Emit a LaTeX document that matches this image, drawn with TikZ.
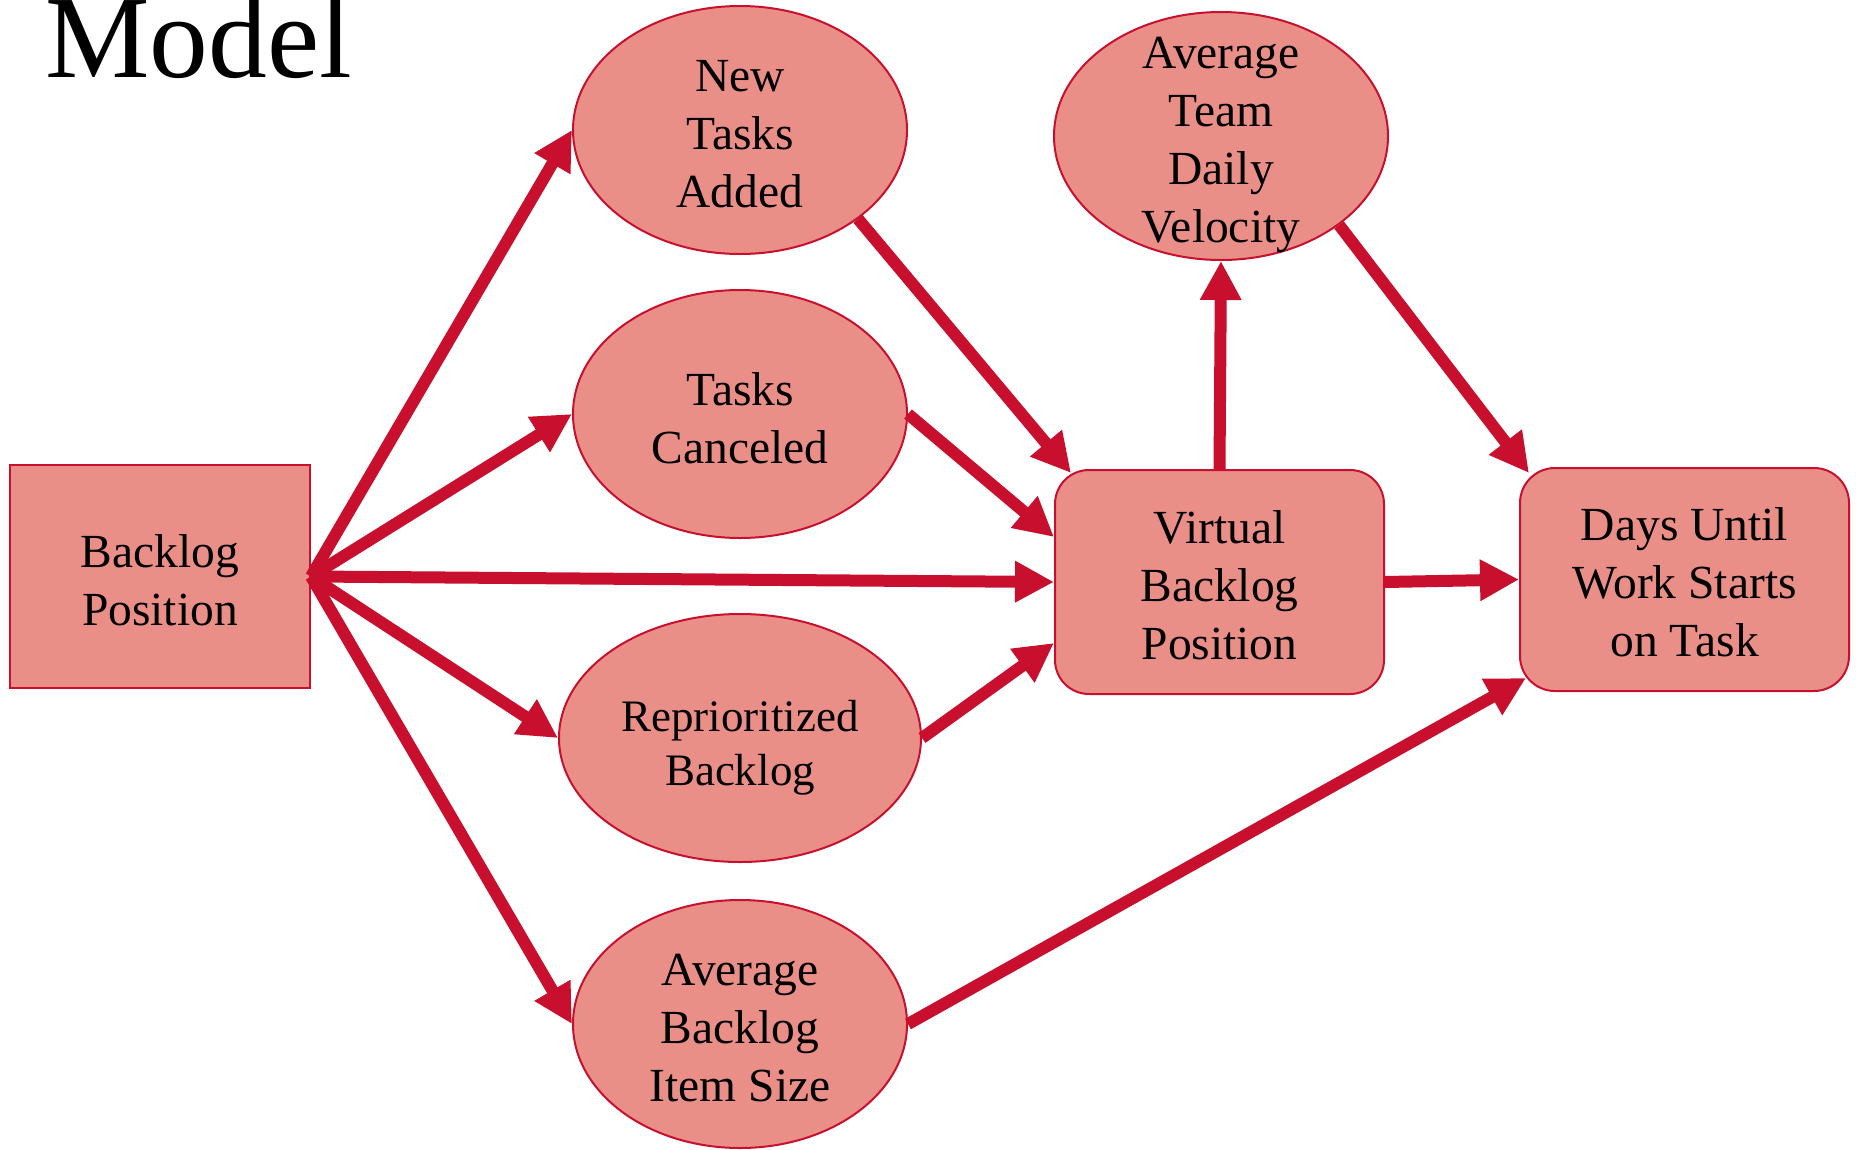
\documentclass[tikz,border=0pt]{standalone}
\usepackage{fontspec}
\setmainfont{Liberation Serif}
\usetikzlibrary{arrows.meta,shapes.geometric,calc}

\definecolor{nodefill}{HTML}{EA8F87}
\definecolor{crimson}{HTML}{C8102E}

\tikzset{
  label font/.style={font=\fontsize{47.5}{58}\selectfont},
  % caption set in the middle of a shape, nudged to sit optically centred
  caption/.style 2 args={label={[label font, align=center, inner sep=0pt,
                         yshift=#1]center:{#2}}},
  blob/.style={ellipse, draw=crimson, line width=2pt, fill=nodefill,
               minimum width=334pt, minimum height=248pt, inner sep=0pt},
  plainbox/.style={rectangle, draw=crimson, line width=2pt, fill=nodefill,
                   minimum width=300pt, minimum height=223pt, inner sep=0pt},
  roundbox/.style={plainbox, minimum width=329pt, minimum height=224pt,
                   rounded corners=34pt},
  link/.style={draw=crimson, line width=12pt,
               -{Triangle[length=39pt,width=39pt]}},
}

\begin{document}
\begin{tikzpicture}[x=1pt,y=-1pt]
  \useasboundingbox (0,0) rectangle (1856,1149);

  % heading
  \node[anchor=base west, inner sep=0pt, font=\fontsize{117.5}{140}\selectfont]
    (title) at (45,77) {Model};

  % nodes
  \node[plainbox, caption={-4pt}{Backlog\\Position}] (bp) at (160,576.5) {};
  \node[blob, caption={-4pt}{New\\Tasks\\Added}] (nta) at (740,130) {};
  \node[blob, caption={-4pt}{Tasks\\Canceled}] (tc) at (740,414) {};
  \node[blob, minimum width=362pt,
        label={[font=\fontsize{45}{54}\selectfont, align=center, inner sep=0pt,
                yshift=-10pt]center:{Reprioritized\\Backlog}}]
        (rb) at (740,738) {};
  \node[blob, caption={-4pt}{Average\\Backlog\\Item Size}] (abs) at (740,1024) {};
  \node[blob, caption={-9pt}{Average\\Team\\Daily\\Velocity}] (vel) at (1221,136) {};
  \node[roundbox, caption={-3pt}{Virtual\\Backlog\\Position}] (vbp) at (1219.5,582) {};
  \node[roundbox, minimum height=223pt, rounded corners=35pt,
        caption={-3pt}{Days Until\\Work Starts\\on Task}] (dp) at (1684.5,579.5) {};

  % influences from the backlog position
  \draw[link] (bp.east) -- (nta.west);
  \draw[link] (bp.east) -- (tc.west);
  \draw[link] (bp.east) -- (vbp.west);
  \draw[link] (bp.east) -- (rb.west);
  \draw[link] (bp.east) -- (abs.west);

  % into the virtual backlog position
  \draw[link] (nta.-37) -- ($(vbp.north west)+(17,4)$);
  \draw[link] (tc.east) -- ($(vbp.west)+(0,-45)$);
  \draw[link] (rb.east) -- ($(vbp.west)+(0,61)$);

  % velocity and the outcome
  \draw[link] (vbp.north) -- (vel.south);
  \draw[link] (vel.-37) -- ($(dp.north west)+(10,6)$);
  \draw[link] (vbp.east) -- (dp.west);
  \draw[link] (abs.east) -- ($(dp.south west)+(7,-14)$);
\end{tikzpicture}
\end{document}
